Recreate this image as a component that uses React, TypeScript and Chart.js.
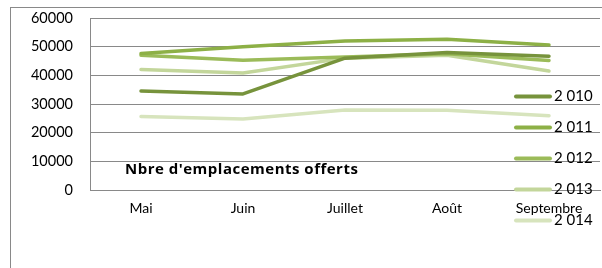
import { useEffect, useRef } from 'react';
import { Chart, registerables } from 'chart.js';

Chart.register(...registerables);

const categories = ['Mai', 'Juin', 'Juillet', 'Août', 'Septembre'];
const seriesLabels = ['2 010', '2 011', '2 012', '2 013', '2 014'];
const s2010 = [34500, 33500, 46000, 48000, 46700];
const s2011 = [47600, 50000, 52000, 52600, 50600];
const s2012 = [47000, 45300, 46400, 47500, 45200];
const s2013 = [42000, 40800, 46000, 47000, 41500];
const s2014 = [25600, 24800, 27900, 27800, 25900];
const seriesColors = ['#77933C', '#8DB046', '#9BBB59', '#C3D69B', '#D7E4BD'];
const yMin = 0;
const yMax = 60000;
const yStep = 10000;
const chartTitle = "Nbre d'emplacements offerts";

const FONT = 'Lato, "Open Sans", sans-serif';
const TITLE_FONT = '"Open Sans", Lato, sans-serif';

const overlayPlugin = {
  id: 'overlay',
  beforeDraw(chart: any) {
    const ctx = chart.ctx;
    ctx.save();
    ctx.strokeStyle = '#898989';
    ctx.lineWidth = 1;
    ctx.strokeRect(10.5, 7.5, 800, 400);
    ctx.restore();
  },
  afterDraw(chart: any) {
    const ctx = chart.ctx;
    const area = chart.chartArea;
    ctx.save();
    ctx.fillStyle = '#000';
    ctx.font = `bold 15px ${TITLE_FONT}`;
    try { (ctx as any).letterSpacing = '0.5px'; } catch (e) {}
    ctx.textBaseline = 'middle';
    ctx.textAlign = 'left';
    ctx.fillText(chartTitle, area.left + 35, area.top + 152);
    try { (ctx as any).letterSpacing = '0px'; } catch (e) {}
    ctx.font = `15px ${FONT}`;
    chart.data.datasets.forEach((ds: any, i: number) => {
      const y = area.top + 78 + i * 31;
      const x0 = area.right - 84;
      ctx.strokeStyle = ds.borderColor;
      ctx.lineWidth = 4;
      ctx.lineCap = 'round';
      ctx.beginPath();
      ctx.moveTo(x0, y + 0.5);
      ctx.lineTo(x0 + 34, y + 0.5);
      ctx.stroke();
      ctx.fillStyle = '#000';
      ctx.fillText(ds.label, x0 + 38, y);
    });
    ctx.restore();
  },
};

export default function App() {
  const ref = useRef<HTMLCanvasElement>(null);
  useEffect(() => {
    if (!ref.current) return;
    const all = [s2010, s2011, s2012, s2013, s2014];
    const chart = new Chart(ref.current, {
      type: 'line',
      data: {
        labels: categories,
        datasets: all.map((d, i) => ({
          label: seriesLabels[i],
          data: d,
          borderColor: seriesColors[i],
          backgroundColor: seriesColors[i],
          borderWidth: 3.5,
          borderCapStyle: 'round',
          borderJoinStyle: 'round',
          pointRadius: 0,
          tension: 0,
        })),
      },
      options: {
        responsive: false,
        animation: false,
        devicePixelRatio: 1,
        layout: { padding: { top: 18, right: 2, left: 0, bottom: 0 } },
        plugins: { legend: { display: false }, tooltip: { enabled: false }, title: { display: false } },
        scales: {
          x: {
            offset: true,
            grid: { display: false },
            border: { display: true, color: '#898989' },
            ticks: { color: '#000', font: { family: FONT, size: 14 }, padding: 2, maxRotation: 0, autoSkip: false },
            afterFit(s: any) { s.height = 78; s.paddingLeft = 0; s.paddingRight = 0; },
          },
          y: {
            min: yMin,
            max: yMax,
            grid: { color: '#898989', drawTicks: false },
            border: { display: true, color: '#898989' },
            ticks: {
              stepSize: yStep,
              color: '#000',
              font: { family: FONT, size: 14.5 },
              padding: 17,
              callback: (v: any) => String(v),
            },
            afterFit(s: any) { s.width = 90; s.paddingTop = 0; s.paddingBottom = 0; },
          },
        },
      },
      plugins: [overlayPlugin],
    } as any);
    return () => chart.destroy();
  }, []);
  return (
    <div style={{ position: 'absolute', left: 0, top: 0, width: 602, height: 268 }}>
      <canvas ref={ref} width={602} height={268} style={{ display: 'block', width: 602, height: 268 }} />
    </div>
  );
}
